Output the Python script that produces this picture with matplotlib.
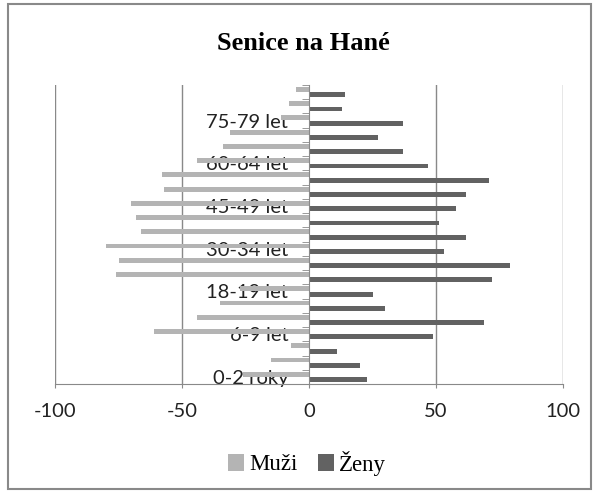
import numpy as np
import matplotlib
matplotlib.use('Agg')
import matplotlib.pyplot as plt
from matplotlib.patches import Rectangle

# age groups, bottom to top
categories = ['0-2 roky', '3-4 roky', '5 let', '6-9 let', '10-14 let', '15-17 let',
              '18-19 let', '20-24 let', '25-29 let', '30-34 let', '35-39 let',
              '40-44 let', '45-49 let', '50-54 let', '55-59 let', '60-64 let',
              '65-69 let', '70-74 let', '75-79 let', '80-84 let', '85+ let']
muzi = [26, 15, 7, 61, 44, 35, 27, 76, 75, 80, 66, 68, 70, 57, 58, 44, 34, 31, 11, 8, 5]
zeny = [23, 20, 11, 49, 69, 30, 25, 72, 79, 53, 62, 51, 58, 62, 71, 47, 37, 27, 37, 13, 14]
xticks = [-100, -50, 0, 50, 100]

c_muzi = '#b4b4b4'
c_zeny = '#626262'
c_grid = '#898989'

fig = plt.figure(figsize=(5.95, 4.92), dpi=100)
ax = fig.add_axes([55 / 595, 1 - 384 / 492, 508 / 595, 299 / 492])

# axis through zero first (moving the spine resets the tick styling)
ax.spines['left'].set_position(('data', 0))
ax.spines['left'].set_color(c_grid)
ax.spines['bottom'].set_color(c_grid)
ax.spines['top'].set_visible(False)
ax.spines['right'].set_visible(False)

y = np.arange(len(categories))
ax.barh(y + 0.19, [-v for v in muzi], height=0.34, color=c_muzi, label='Muži', zorder=2)
ax.barh(y - 0.19, zeny, height=0.34, color=c_zeny, label='Ženy', zorder=2)

ax.set_xlim(-100, 100)
ax.set_ylim(-0.5, len(categories) - 0.5)

# vertical gridlines
for t in xticks:
    if t != 0:
        ax.axvline(t, color=c_grid, lw=1, zorder=1)

ax.set_xticks(xticks)
ax.set_xticklabels([str(t) for t in xticks], family='Lato', fontsize=14.5, color='#222222')
ax.tick_params(axis='x', direction='out', length=3, color=c_grid, pad=11)

# category labels every third group, ticks at the group borders
ax.set_yticks(y[::3])
ax.set_yticklabels(categories[::3], family='Lato', fontsize=14.5, color='#222222')
ax.set_yticks(np.arange(-0.5, len(categories), 1), minor=True)
ax.tick_params(axis='y', which='major', length=0, pad=15)
ax.tick_params(axis='y', which='minor', direction='out', length=5, color=c_grid)

fig.text(303 / 595, 1 - 43 / 492, 'Senice na Hané', ha='center', va='center',
         family='Liberation Serif', fontweight='bold', fontsize=19)

fig.legend(loc='center', bbox_to_anchor=(307 / 595, 1 - 463 / 492), ncol=2, frameon=False,
           prop={'family': 'Liberation Serif', 'size': 16.5},
           handlelength=0.7, handleheight=0.7, handletextpad=0.2, columnspacing=0.9)

# chart border
fig.patches.append(Rectangle((8 / 595, 1 - 489 / 492), 583 / 595, 485 / 492,
                             transform=fig.transFigure, fill=False,
                             edgecolor=c_grid, lw=1.5))

fig.savefig('out.png', dpi=100)
